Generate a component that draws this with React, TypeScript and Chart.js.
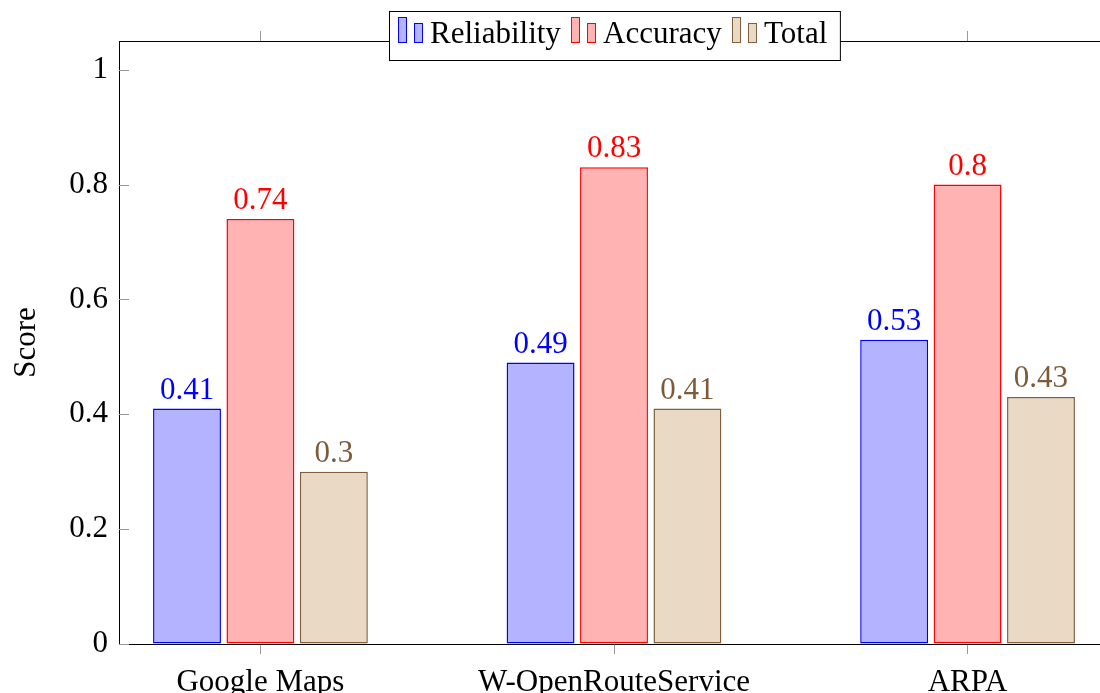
import React, { useEffect, useRef } from 'react';
import { Chart, registerables } from 'chart.js';

Chart.register(...registerables);

const categories = ['Google Maps', 'W-OpenRouteService', 'ARPA'];
const seriesNames = ['Reliability', 'Accuracy', 'Total'];
const reliability = [0.41, 0.49, 0.53];
const accuracy = [0.74, 0.83, 0.8];
const total = [0.3, 0.41, 0.43];
const yTicks = [0, 0.2, 0.4, 0.6, 0.8, 1];
const yTickLabels = ['0', '0.2', '0.4', '0.6', '0.8', '1'];

const seriesValues = [reliability, accuracy, total];
const fills = ['#b3b3ff', '#ffb3b3', '#ead9c4'];
const borders = ['#0000ff', '#ff0000', '#7f5f3d'];
const labelColors = ['#0000ff', '#ff0000', '#7b5b39'];

const FONT_FAMILY = '"Liberation Serif", "Times New Roman", serif';
const FONT_SIZE = 31;

const overlayPlugin = {
  id: 'overlay',
  afterDatasetsDraw(chart: any) {
    const ctx = chart.ctx;
    ctx.save();
    ctx.font = `${FONT_SIZE}px ${FONT_FAMILY}`;
    ctx.textAlign = 'center';
    ctx.textBaseline = 'alphabetic';
    chart.data.datasets.forEach((ds: any, di: number) => {
      const meta = chart.getDatasetMeta(di);
      meta.data.forEach((el: any, i: number) => {
        ctx.fillStyle = labelColors[di];
        ctx.fillText(String(seriesValues[di][i]), el.x, el.y - 10);
      });
    });
    ctx.restore();
  },
  afterDraw(chart: any) {
    const ctx = chart.ctx;
    const area = chart.chartArea;
    const y = chart.scales.y;
    ctx.save();
    // inner y tick marks
    ctx.strokeStyle = '#999';
    ctx.lineWidth = 1;
    yTicks.forEach((v) => {
      const py = Math.round(y.getPixelForValue(v)) + 0.5;
      ctx.beginPath();
      ctx.moveTo(area.left, py);
      ctx.lineTo(area.left + 10, py);
      ctx.stroke();
    });
    // legend
    ctx.font = `${FONT_SIZE}px ${FONT_FAMILY}`;
    const widths = seriesNames.map((n) => ctx.measureText(n).width);
    const iconW = 32;
    const gap = 10;
    const padL = 8;
    const padR = 14;
    let content = 0;
    widths.forEach((w, i) => {
      content += iconW + w + (i < widths.length - 1 ? gap : 0);
    });
    const boxW = padL + content + padR;
    const boxH = 49;
    const cx = (area.left + area.right) / 2;
    const bx = Math.round(cx - boxW / 2) + 0.5;
    const by = 11.5;
    ctx.fillStyle = '#fff';
    ctx.fillRect(bx, by, boxW, boxH);
    ctx.strokeStyle = '#000';
    ctx.lineWidth = 1;
    ctx.strokeRect(bx, by, boxW, boxH);
    let x = Math.round(bx + padL);
    const baseY = 43;
    seriesNames.forEach((name, i) => {
      ctx.fillStyle = fills[i];
      ctx.strokeStyle = borders[i];
      ctx.fillRect(x, 17, 8, 26);
      ctx.strokeRect(x + 0.5, 17.5, 8, 25);
      ctx.fillRect(x + 16, 23, 8, 20);
      ctx.strokeRect(x + 16.5, 23.5, 8, 19);
      ctx.fillStyle = '#000';
      ctx.textAlign = 'left';
      ctx.textBaseline = 'alphabetic';
      ctx.fillText(name, x + iconW, baseY);
      x = Math.round(x + iconW + widths[i] + gap);
    });
    ctx.restore();
  },
};

export default function App() {
  const ref = useRef<HTMLCanvasElement | null>(null);

  useEffect(() => {
    if (!ref.current) return;
    const font = { family: FONT_FAMILY, size: FONT_SIZE };
    const catTicks = (s: any) => {
      s.ticks = categories.map((_, i) => ({ value: i }));
    };
    const chart = new Chart(ref.current, {
      type: 'bar',
      data: {
        datasets: seriesNames.map((name, di) => ({
          label: name,
          data: seriesValues[di].map((v, i) => ({ x: i, y: v })),
          backgroundColor: fills[di],
          borderColor: borders[di],
          borderWidth: 1.5,
          borderSkipped: false,
          categoryPercentage: 0.623,
          barPercentage: 0.925,
        })),
      },
      options: {
        animation: false,
        responsive: false,
        devicePixelRatio: 1,
        layout: { padding: { left: 0, right: 21, top: 0, bottom: 0 } },
        plugins: {
          legend: { display: false },
          tooltip: { enabled: false },
        },
        scales: {
          x: {
            type: 'linear',
            position: 'bottom',
            min: -0.4,
            max: 2.4,
            offset: false,
            afterBuildTicks: catTicks,
            afterFit: (s: any) => {
              s.height = 49;
            },
            ticks: {
              callback: (v: any) => categories[v] ?? '',
              font,
              color: '#000',
              padding: 10,
              maxRotation: 0,
              autoSkip: false,
            },
            grid: { offset: false, drawOnChartArea: false, drawTicks: true, tickLength: 10, color: '#999', lineWidth: 1 },
            border: { display: true, color: '#000', width: 1 },
          },
          xTop: {
            type: 'linear',
            position: 'top',
            min: -0.4,
            max: 2.4,
            offset: false,
            afterBuildTicks: catTicks,
            afterFit: (s: any) => {
              s.height = 41;
            },
            ticks: { display: false },
            grid: { offset: false, drawOnChartArea: false, drawTicks: true, tickLength: 10, color: '#999', lineWidth: 1 },
            border: { display: true, color: '#000', width: 1 },
          },
          y: {
            type: 'linear',
            min: 0,
            max: 1.05,
            afterBuildTicks: (s: any) => {
              s.ticks = yTicks.map((v) => ({ value: v }));
            },
            afterFit: (s: any) => {
              s.width = 119;
            },
            ticks: {
              callback: (v: any) => yTickLabels[yTicks.indexOf(v)] ?? '',
              font,
              color: '#000',
              padding: 11,
            },
            grid: { drawOnChartArea: false, drawTicks: false },
            border: { display: true, color: '#000', width: 1 },
            title: {
              display: true,
              text: 'Score',
              font,
              color: '#000',
              padding: { top: 8, bottom: 0 },
            },
          },
        },
      } as any,
      plugins: [overlayPlugin],
    });
    return () => chart.destroy();
  }, []);

  return (
    <div style={{ position: 'fixed', left: 0, top: 0, width: 1100, height: 693, overflow: 'hidden', background: '#fff' }}>
      <canvas ref={ref} width={1130} height={693} style={{ display: 'block', width: 1130, height: 693 }} />
    </div>
  );
}
